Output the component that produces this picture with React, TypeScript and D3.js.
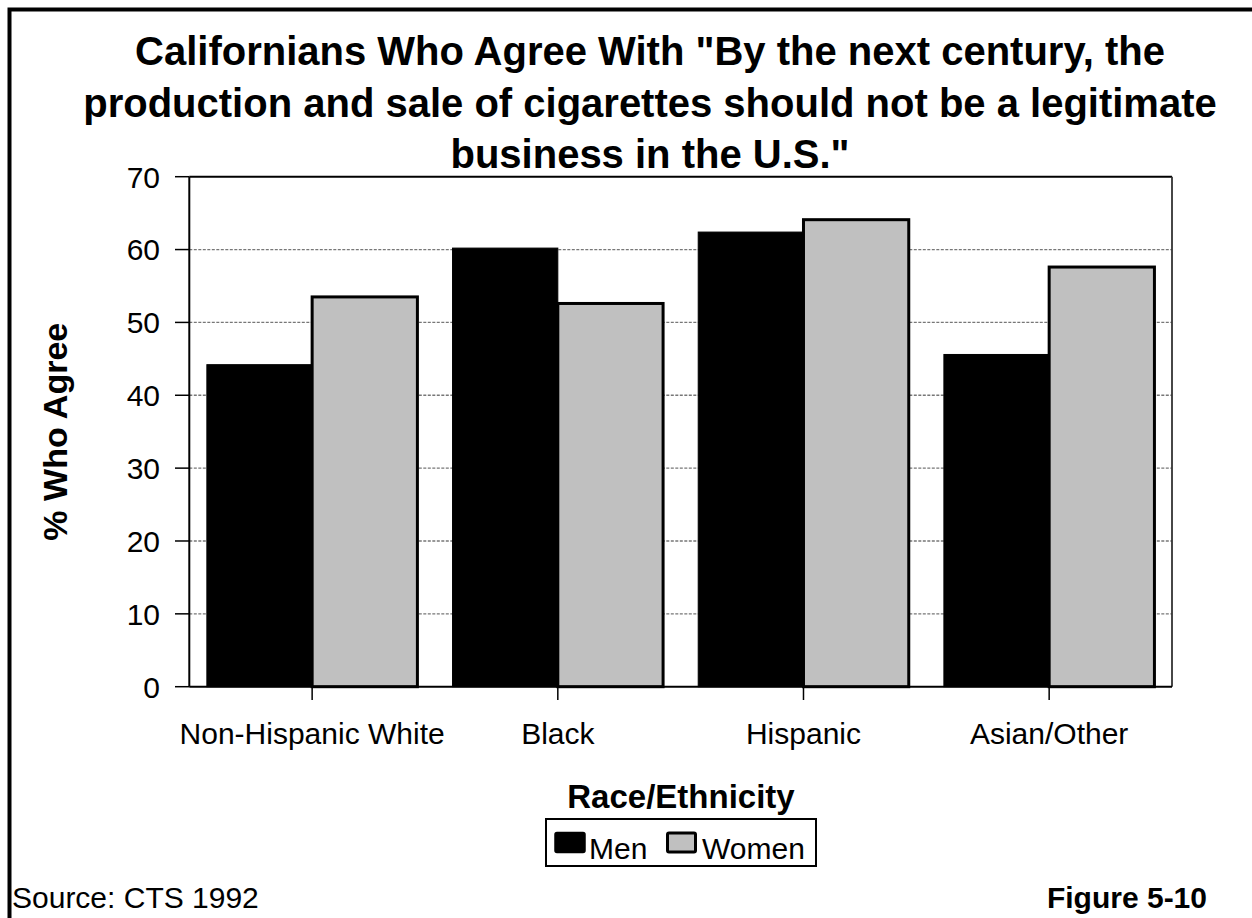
import React from "react";
import * as d3 from "d3";

const titleLines = [
  'Californians Who Agree With "By the next century, the',
  "production and sale of cigarettes should not be a legitimate",
  'business in the U.S."',
];
const categories = ["Non-Hispanic White", "Black", "Hispanic", "Asian/Other"];
const seriesNames = ["Men", "Women"];
const menValues = [44.2, 60.2, 62.4, 45.6];
const womenValues = [53.5, 52.6, 64.1, 57.6];
const yTicks = [0, 10, 20, 30, 40, 50, 60, 70];
const yLabel = "% Who Agree";
const xLabel = "Race/Ethnicity";
const sourceText = "Source: CTS 1992";
const figureText = "Figure 5-10";

const FONT = "'Liberation Sans', Arial, Helvetica, sans-serif";
const W = 1252;
const H = 918;
const plot = { left: 189.3, right: 1172, top: 176.7, bottom: 686.7 };
const colors: Record<string, string> = { Men: "#000000", Women: "#c0c0c0" };

export default function App() {
  const x = d3
    .scaleBand<string>()
    .domain(categories)
    .range([plot.left, plot.right])
    .paddingInner(0.143)
    .paddingOuter(0.0715);
  const xs = d3.scaleBand<string>().domain(seriesNames).range([0, x.bandwidth()]).padding(0);
  const y = d3.scaleLinear().domain([0, 70]).range([plot.bottom, plot.top]);

  const seriesValues: Record<string, number[]> = { Men: menValues, Women: womenValues };

  return (
    <svg
      width={W}
      height={H}
      style={{ position: "absolute", left: 0, top: 0, display: "block", background: "#fff" }}
      fontFamily={FONT}
    >
      <rect x={0} y={0} width={W} height={H} fill="#fff" />
      {/* outer frame (left and top visible) */}
      <path d={`M9.5,${H + 10} L9.5,9.5 L${W + 10},9.5`} fill="none" stroke="#000" strokeWidth={4} />

      {/* title */}
      {titleLines.map((t, i) => (
        <text
          key={i}
          x={650}
          y={65 + i * 51.5}
          textAnchor="middle"
          fontSize={40}
          fontWeight="bold"
          fill="#000"
        >
          {t}
        </text>
      ))}

      {/* gridlines */}
      {yTicks
        .filter((v) => v > 0 && v < 70)
        .map((v) => (
          <line
            key={"g" + v}
            x1={plot.left}
            x2={plot.right}
            y1={y(v)}
            y2={y(v)}
            stroke="#777"
            strokeWidth={1.3}
            strokeDasharray="3,1.5"
          />
        ))}

      {/* plot frame top/right */}
      <line x1={plot.left} x2={plot.right} y1={plot.top} y2={plot.top} stroke="#000" strokeWidth={2} />
      <line x1={plot.right} x2={plot.right} y1={plot.top} y2={plot.bottom} stroke="#333" strokeWidth={1.8} />

      {/* bars */}
      {categories.map((c, ci) =>
        seriesNames.map((s) => {
          const v = seriesValues[s][ci];
          const bx = (x(c) as number) + (xs(s) as number);
          const isWomen = s === "Women";
          return (
            <rect
              key={c + s}
              x={bx}
              y={y(v)}
              width={xs.bandwidth()}
              height={y(0) - y(v)}
              fill={colors[s]}
              stroke="#000"
              strokeWidth={isWomen ? 3 : 1}
            />
          );
        })
      )}

      {/* y axis */}
      <line x1={plot.left} x2={plot.left} y1={plot.top} y2={plot.bottom} stroke="#000" strokeWidth={2} />
      {yTicks.map((v) => (
        <g key={"t" + v}>
          <line x1={175} x2={plot.left} y1={y(v)} y2={y(v)} stroke="#000" strokeWidth={1.5} />
          <text x={160} y={y(v)} dy="0.36em" textAnchor="end" fontSize={30} fill="#000">
            {v}
          </text>
        </g>
      ))}

      {/* x axis */}
      <line x1={plot.left} x2={plot.right} y1={plot.bottom} y2={plot.bottom} stroke="#000" strokeWidth={2} />
      {categories.map((c) => {
        const cx = (x(c) as number) + x.bandwidth() / 2;
        return (
          <g key={"x" + c}>
            <line x1={cx} x2={cx} y1={plot.bottom} y2={700} stroke="#000" strokeWidth={1.5} />
            <text x={cx} y={743.5} textAnchor="middle" fontSize={30} fill="#000">
              {c}
            </text>
          </g>
        );
      })}

      {/* axis titles */}
      <text
        transform={`translate(67,${(plot.top + plot.bottom) / 2}) rotate(-90)`}
        textAnchor="middle"
        fontSize={34}
        fontWeight="bold"
        fill="#000"
      >
        {yLabel}
      </text>
      <text x={681} y={808} textAnchor="middle" fontSize={33} fontWeight="bold" fill="#000">
        {xLabel}
      </text>

      {/* legend */}
      <rect x={546} y={819} width={270} height={47} fill="#fff" stroke="#000" strokeWidth={2} />
      <rect x={555} y={832.5} width={30} height={20} rx={2} fill={colors.Men} stroke="#000" strokeWidth={1.5} />
      <text x={589} y={859} fontSize={30} fill="#000">
        {seriesNames[0]}
      </text>
      <rect x={667.5} y={833} width={28} height={19} rx={1.5} fill={colors.Women} stroke="#000" strokeWidth={3} />
      <text x={702} y={859} fontSize={30} fill="#000">
        {seriesNames[1]}
      </text>

      {/* footer */}
      <text x={12} y={908} fontSize={30} fill="#000">
        {sourceText}
      </text>
      <text x={1207} y={908} textAnchor="end" fontSize={30} fontWeight="bold" fill="#000">
        {figureText}
      </text>
    </svg>
  );
}
